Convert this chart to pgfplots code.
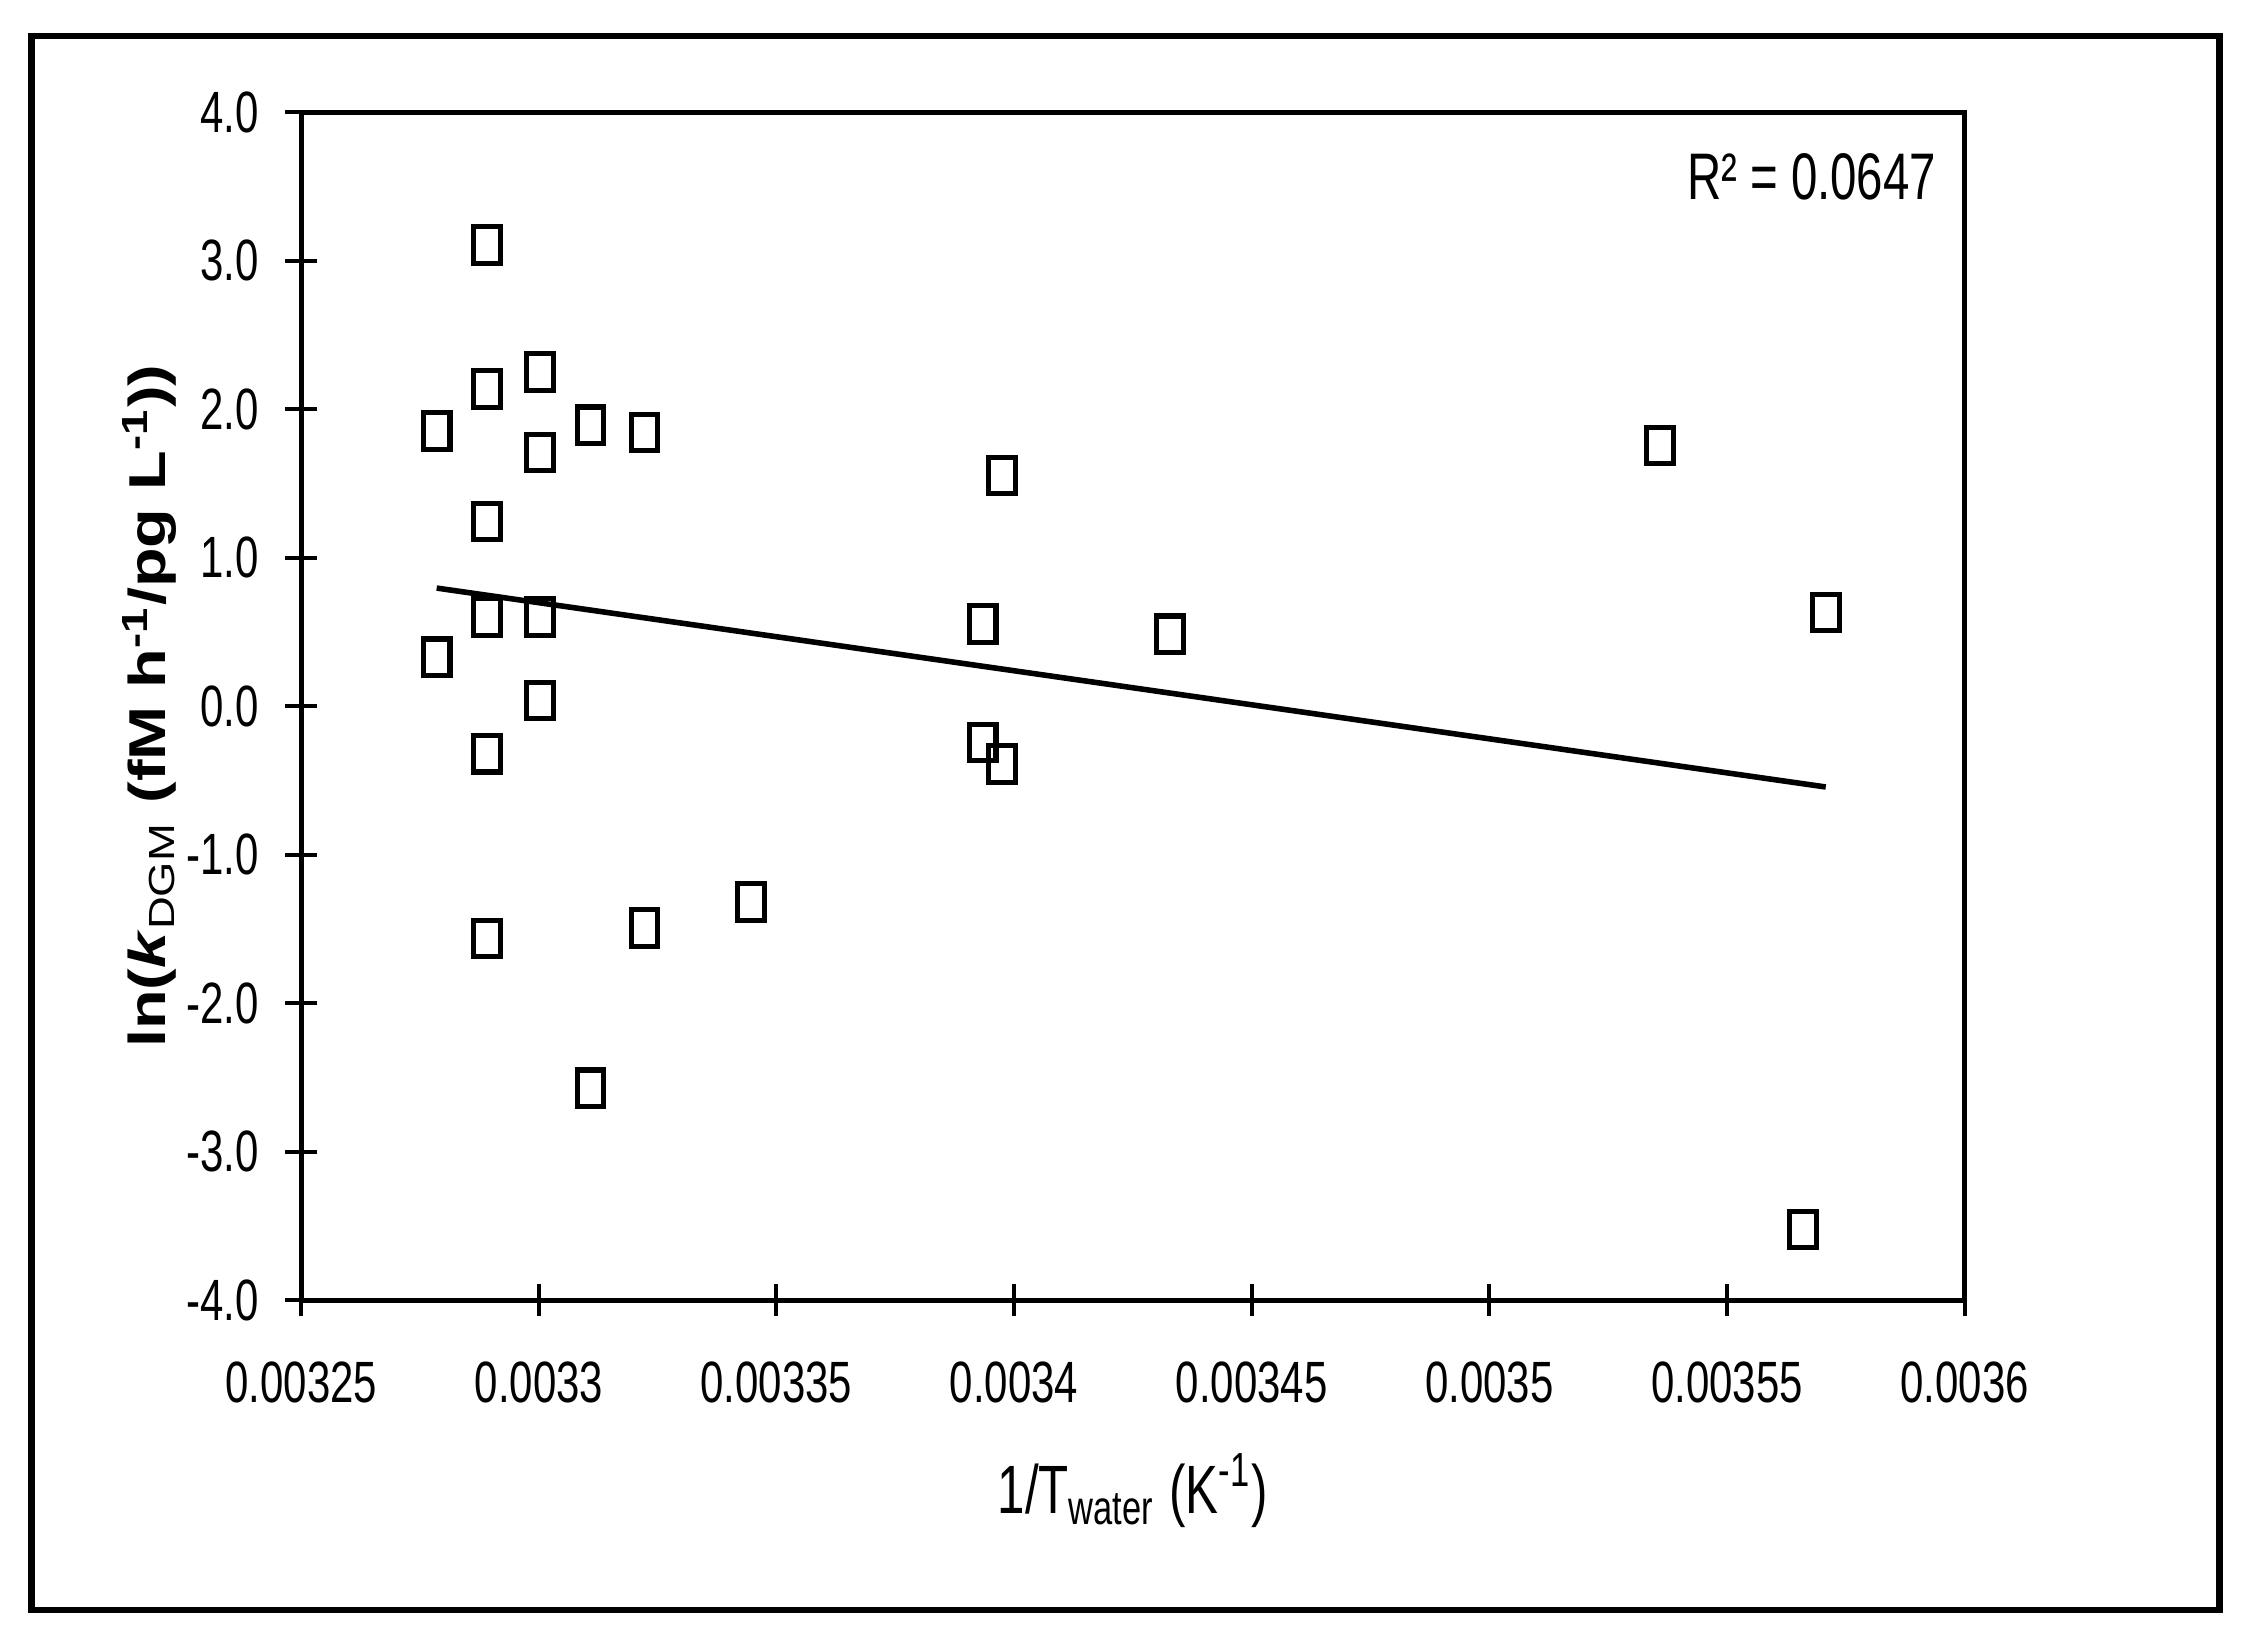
\documentclass[border=0pt]{standalone}
\usepackage{fontspec}
\setmainfont{Liberation Sans}
\newfontfamily\condfont[FakeStretch=0.72]{Liberation Sans}
\usepackage{pgfplots}
\pgfplotsset{compat=1.18}

\begin{document}
\begin{tikzpicture}
\begin{axis}[
  scale only axis,
  width=11.54cm, height=8.24cm,
  xmin=0.00325, xmax=0.0036,
  ymin=-4, ymax=4,
  scaled x ticks=false,
  xtick={0.00325,0.0033,0.00335,0.0034,0.00345,0.0035,0.00355,0.0036},
  xticklabels={0.00325,0.0033,0.00335,0.0034,0.00345,0.0035,0.00355,0.0036},
  ytick={-4,-3,-2,-1,0,1,2,3,4},
  yticklabels={-4.0,-3.0,-2.0,-1.0,0.0,1.0,2.0,3.0,4.0},
  xtick pos=bottom, ytick pos=left,
  tick align=center,
  major tick length=0.22cm,
  axis line style={line width=1pt},
  tick style={line width=0.8pt, black},
  ticklabel style={font=\condfont\fontsize{11.5}{12}\selectfont, inner sep=0pt},
  xticklabel shift=0.31cm,
  yticklabel shift=0.18cm,
  xlabel={1/T\textsubscript{water} (K\textsuperscript{-1})},
  xlabel style={at={(axis description cs:0.5,-0.1286)}, anchor=north, inner sep=0pt,
    font=\condfont\fontsize{13.5}{14}\selectfont},
  ylabel={ln(\textit{k}\textsubscript{\mdseries DGM} (fM h\textsuperscript{-1}/pg L\textsuperscript{-1}))},
  ylabel style={at={(axis description cs:-0.0745,0.5)}, anchor=south, inner sep=0pt,
    yscale=0.8, font=\bfseries\fontsize{12.8}{14}\selectfont},
]
% data points
\addplot[only marks, mark=square, mark size=3.6pt,
  mark options={xscale=0.73, line width=1pt, black, fill=white}]
  coordinates {
  (0.0032785,1.854) (0.0032785,0.330)
  (0.0032891,3.107) (0.0032891,2.136) (0.0032891,1.243)
  (0.0032891,0.602) (0.0032891,-0.320) (0.0032891,-1.563)
  (0.0033003,2.252) (0.0033003,1.709) (0.0033003,0.602) (0.0033003,0.039)
  (0.0033109,1.893) (0.0033109,-2.573)
  (0.0033222,1.845) (0.0033222,-1.495)
  (0.0033446,-1.320)
  (0.0033934,0.553) (0.0033934,-0.243)
  (0.0033974,1.553) (0.0033974,-0.388)
  (0.0034328,0.485)
  (0.0035359,1.757)
  (0.0035660,-3.524)
  (0.0035708,0.631)
  };
% linear trendline
\addplot[black, line width=1.1pt] coordinates {(0.0032785,0.796) (0.0035708,-0.544)};
\node[anchor=north east, inner sep=0pt, font=\condfont\fontsize{13}{14}\selectfont]
  at (rel axis cs:0.9835,0.966) {R² = 0.0647};
\end{axis}
\draw[line width=1.3pt] (-1.87,-2.15) rectangle (13.31,8.77);
\path (-2.09,-2.42) rectangle (13.59,9.02);
\end{tikzpicture}
\end{document}
